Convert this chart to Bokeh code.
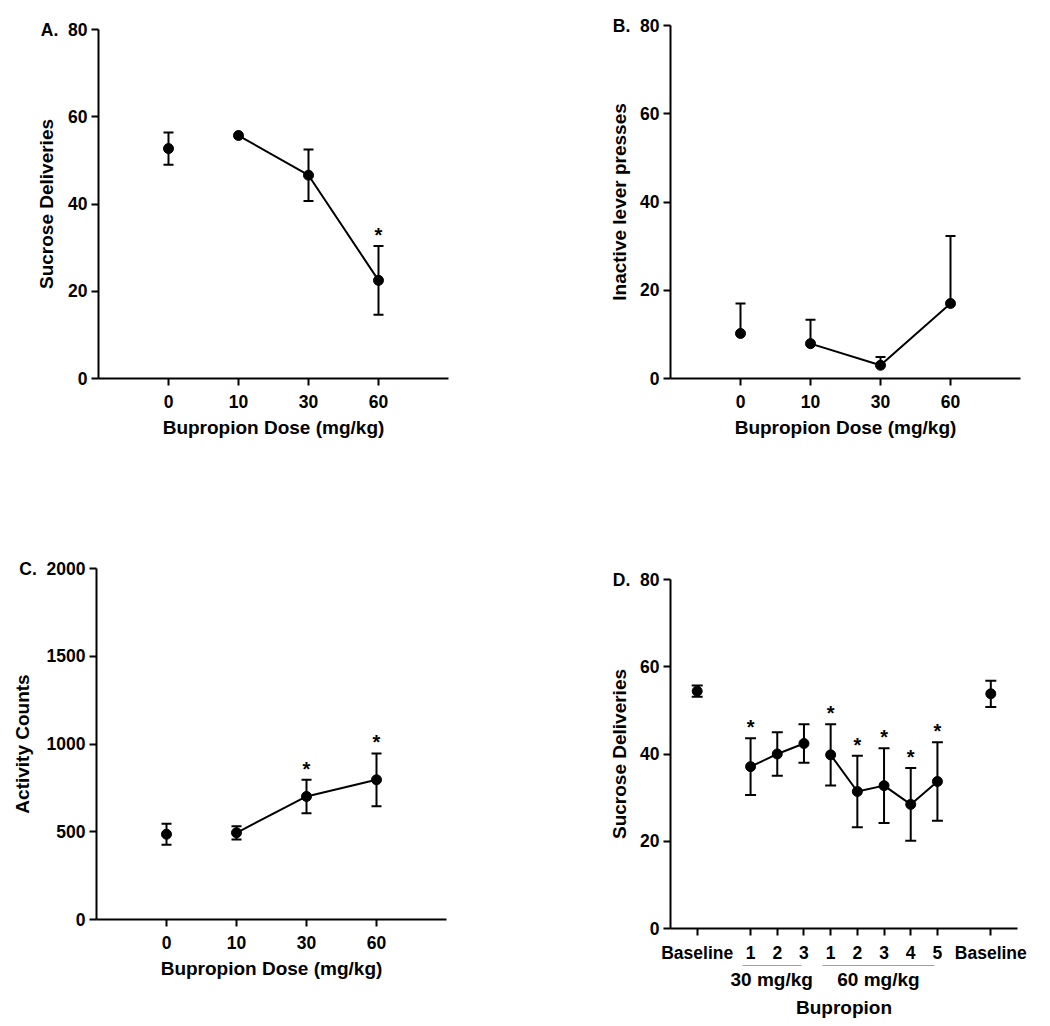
from bokeh.plotting import figure
from bokeh.models import Range1d, FixedTicker, LinearAxis
from bokeh.layouts import column, row
from bokeh.embed import file_html
from bokeh.resources import INLINE
from bokeh.core.properties import value

FONT = "Liberation Sans"
NB = "\u00a0"

# ---------------- data ----------------
dose_labels = ["0", "10", "30", "60"]
dose_group = ["Vehicle", "Bupropion", "Bupropion", "Bupropion"]

sucrose_mean = [52.7, 55.7, 46.6, 22.5]
sucrose_sem = [3.7, 0.0, 5.9, 7.9]
sucrose_sig = [False, False, False, True]

inactive_mean = [10.2, 7.9, 3.0, 17.0]
inactive_sem = [6.8, 5.4, 1.9, 15.3]
inactive_sig = [False, False, False, False]

activity_mean = [486, 494, 701, 796]
activity_sem = [60, 38, 96, 150]
activity_sig = [False, False, True, True]

session_labels = ["Baseline", "1", "2", "3", "1", "2", "3", "4", "5", "Baseline"]
session_group = ["Baseline", "30 mg/kg", "30 mg/kg", "30 mg/kg",
                 "60 mg/kg", "60 mg/kg", "60 mg/kg", "60 mg/kg", "60 mg/kg", "Baseline"]
session_mean = [54.4, 37.1, 40.0, 42.4, 39.8, 31.4, 32.75, 28.45, 33.7, 53.8]
session_sem = [1.3, 6.5, 5.0, 4.4, 7.0, 8.2, 8.55, 8.35, 9.0, 3.0]
session_sig = [False, True, False, False, True, True, True, True, True, False]


def slot_positions(groups):
    pos, cur, prev = [], 0, None
    for g in groups:
        if prev is None:
            cur = 1
        elif g != prev and ("Baseline" in (g, prev)):
            cur += 2
        else:
            cur += 1
        pos.append(cur)
        prev = g
    return pos


def style_axis(ax):
    ax.axis_line_width = 2
    ax.major_tick_line_width = 2
    ax.major_tick_in = 0
    ax.major_tick_out = 7
    ax.minor_tick_line_color = None
    ax.major_label_text_font = FONT
    ax.major_label_text_font_style = "bold"
    ax.major_label_text_font_size = "17.5px"
    ax.major_label_text_color = "black"
    ax.axis_label_text_font = FONT
    ax.axis_label_text_font_style = "bold"
    ax.axis_label_text_font_size = "19px"
    ax.axis_label_text_color = "black"
    ax.axis_line_color = "black"
    ax.major_tick_line_color = "black"


def make_panel(xs, mean, sem, sig, groups, upper_only, y_max, y_step, ylabel,
               letter, ylabel_standoff, x_end, tick_labels, size, frame,
               borders, xlabel, connect_skip, cap=10, x_standoff=9):
    l, t = borders
    W, H = size
    fw, fh = frame
    p = figure(width=W, height=H,
               min_border_left=l, min_border_right=W - l - fw,
               min_border_top=t, min_border_bottom=H - t - fh,
               x_range=Range1d(0, x_end), y_range=Range1d(0, y_max),
               toolbar_location=None, output_backend="svg")
    p.outline_line_color = None
    p.xgrid.visible = False
    p.ygrid.visible = False
    p.background_fill_color = "white"
    p.border_fill_color = "white"

    style_axis(p.xaxis[0])
    style_axis(p.yaxis[0])

    yt = list(range(0, y_max + 1, y_step))
    p.yaxis.ticker = FixedTicker(ticks=yt)
    # the panel letter sits to the left of the top tick label
    p.yaxis.major_label_overrides = {y_max: letter + NB + NB + str(y_max)}
    p.yaxis.axis_label = ylabel
    p.yaxis.major_label_standoff = 4
    p.yaxis.axis_label_standoff = ylabel_standoff

    p.xaxis.ticker = FixedTicker(ticks=list(xs))
    p.xaxis.major_label_overrides = {int(x): s for x, s in zip(xs, tick_labels)}
    p.xaxis.major_label_standoff = x_standoff
    if xlabel:
        p.xaxis.axis_label = xlabel
        p.xaxis.axis_label_standoff = 6

    upper = [m + s for m, s in zip(mean, sem)]
    lower = [m if upper_only else m - s for m, s in zip(mean, sem)]

    n = len(xs)
    i = 0
    while i < n:
        j = i
        while j + 1 < n and groups[j + 1] == groups[i]:
            j += 1
        if groups[i] not in connect_skip and j > i:
            p.line(xs[i:j + 1], mean[i:j + 1], line_color="black", line_width=2)
        i = j + 1

    eb = [k for k in range(n) if sem[k] > 0]
    p.segment(x0=[xs[k] for k in eb], y0=[lower[k] for k in eb],
              x1=[xs[k] for k in eb], y1=[upper[k] for k in eb],
              line_color="black", line_width=2)
    p.scatter([xs[k] for k in eb], [upper[k] for k in eb], marker="dash",
              size=cap, line_color="black", line_width=2)
    if not upper_only:
        p.scatter([xs[k] for k in eb], [lower[k] for k in eb], marker="dash",
                  size=cap, line_color="black", line_width=2)

    p.scatter(xs, mean, marker="circle", size=10, fill_color="black",
              line_color="black")

    sk = [k for k in range(n) if sig[k]]
    if sk:
        p.text(x=[xs[k] for k in sk], y=[upper[k] for k in sk],
               text=["*"] * len(sk), text_align="center",
               text_baseline="bottom", text_font=value(FONT),
               text_font_style="bold", text_font_size="20px",
               text_color="black")
    return p


dose_x = [1, 2, 3, 4]
XL = "Bupropion Dose (mg/kg)"

pA = make_panel(dose_x, sucrose_mean, sucrose_sem, sucrose_sig, dose_group, False,
                80, 20, "Sucrose Deliveries", "A.", -19, 5, dose_labels,
                (580, 540), (350, 349), (98, 29), XL, ("Vehicle",))
pB = make_panel(dose_x, inactive_mean, inactive_sem, inactive_sig, dose_group, True,
                80, 20, "Inactive lever presses", "B.", -20, 5, dose_labels,
                (450, 540), (350, 353), (90, 25), XL, ("Vehicle",))
pC = make_panel(dose_x, activity_mean, activity_sem, activity_sig, dose_group, False,
                2000, 500, "Activity Counts", "C.", -17, 5, dose_labels,
                (580, 478), (350, 351), (96, 28), XL, ("Vehicle",))

sx = slot_positions(session_group)
D_FW = 347
pD = make_panel(sx, session_mean, session_sem, session_sig, session_group, False,
                80, 20, "Sucrose Deliveries", "D.", -20, sx[-1] + 1, session_labels,
                (450, 484), (D_FW, 349), (90, 39), None, ("Baseline",), cap=11,
                x_standoff=7)

# group bracket lines + labels under panel D, drawn as a second bottom axis
ppx = D_FW / (sx[-1] + 1)
spans, centers, names = [], [], []
for g in ("30 mg/kg", "60 mg/kg"):
    gx = [x for x, gg in zip(sx, session_group) if gg == g]
    x0, x1 = gx[0] - 0.31, gx[-1] - 0.1
    spans.append((x0, x1))
    centers.append(round((x0 + x1) / 2, 2))
    names.append(g)
dash = "%d %d %d 3000" % (round((spans[0][1] - spans[0][0]) * ppx),
                          round((spans[1][0] - spans[0][1]) * ppx),
                          round((spans[1][1] - spans[1][0]) * ppx))
gax = LinearAxis(bounds=(spans[0][0], spans[1][1]))
style_axis(gax)
gax.axis_line_color = "#a0a0a0"
gax.axis_line_width = 1
gax.axis_line_dash = dash
gax.major_tick_line_color = None
gax.major_tick_out = 0
gax.ticker = FixedTicker(ticks=centers)
gax.major_label_overrides = {c: nm for c, nm in zip(centers, names)}
gax.major_label_text_font_size = "19px"
gax.major_label_standoff = 3
gax.axis_label = "Bupropion"
gax.axis_label_standoff = 4
pD.add_layout(gax, "below")

layout = column(row(column(pA), column(pB)), row(column(pC), column(pD)))
open("out.html", "w").write(file_html(layout, INLINE))
